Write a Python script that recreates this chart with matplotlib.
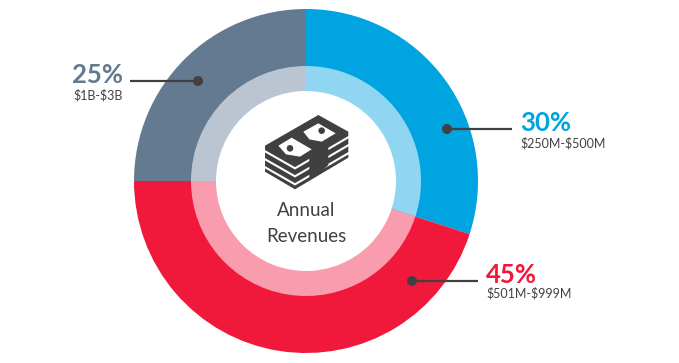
import matplotlib
matplotlib.use("Agg")
import matplotlib.pyplot as plt
from matplotlib.patches import Polygon, Circle

shares = [30, 45, 25]
percent_labels = ["30%", "45%", "25%"]
range_labels = [r"\$250M-\$500M", r"\$501M-\$999M", r"\$1B-\$3B"]
outer_colors = ["#00A4E0", "#F0193C", "#647A91"]
inner_colors = ["#90D6F2", "#F89CAE", "#BAC5D1"]
center_title = ["Annual", "Revenues"]

W, H = 679, 363
DARK = "#414042"
FONT = "Lato"

fig = plt.figure(figsize=(W / 100, H / 100), dpi=100)
ax = fig.add_axes([0, 0, 1, 1])
cx, cy = 306, H - 181

ax.pie(shares, colors=outer_colors, radius=172, center=(cx, cy), startangle=90,
       counterclock=False, frame=False, wedgeprops=dict(linewidth=0))
ax.pie(shares, colors=inner_colors, radius=115, center=(cx, cy), startangle=90,
       counterclock=False, frame=False, wedgeprops=dict(linewidth=0))
ax.add_patch(Circle((cx, cy), 90, fc="white", ec="none", zorder=5))
ax.set_xlim(0, W)
ax.set_ylim(0, H)
ax.set_aspect("equal")
ax.axis("off")


def Z(pts):
    return [(250 + x / 3, H - (100 + y / 3)) for x, y in pts]


# money-stack icon (zoom coordinates)
ax.add_patch(Polygon(Z([(45, 137), (205, 45), (295, 95), (295, 173), (135, 268), (45, 215)]),
                     closed=True, fc="#404041", ec="none", zorder=6))
for dy in (15, 39, 63):
    xs, ys = zip(*Z([(42, 137 + dy), (135, 190 + dy), (298, 95 + dy)]))
    ax.plot(xs, ys, color="white", lw=1.5, zorder=6.5, solid_joinstyle="miter")
ax.add_patch(Polygon(Z([(178, 140), (235, 107), (235, 195), (205, 222), (178, 235)]),
                     closed=True, fc="#404041", ec="none", zorder=7))
ax.add_patch(Polygon(Z([(85, 137), (125, 113), (185, 148), (150, 170), (108, 163)]),
                     closed=True, fc="white", ec="none", zorder=8))
ax.add_patch(Polygon(Z([(160, 95), (205, 70), (257, 100), (215, 125), (178, 118)]),
                     closed=True, fc="white", ec="none", zorder=8))
ax.add_patch(Circle(Z([(120, 145)])[0], 3.3, fc="#404041", ec="none", zorder=9))
ax.add_patch(Circle(Z([(215, 92)])[0], 3.3, fc="#404041", ec="none", zorder=9))

ax.text(306, H - 210, center_title[0], ha="center", va="center", fontsize=13.5,
        family=FONT, color=DARK, zorder=10)
ax.text(306, H - 236, center_title[1], ha="center", va="center", fontsize=13.5,
        family=FONT, color=DARK, zorder=10)

# leaders: dot (x, y), free end x; text anchor
ax.plot([447, 512], [H - 129, H - 129], color=DARK, lw=1.6, zorder=6, solid_capstyle="butt")
ax.add_patch(Circle((447, H - 129), 5, fc=DARK, ec="none", zorder=7))
ax.plot([412, 478], [H - 281, H - 281], color=DARK, lw=1.6, zorder=6, solid_capstyle="butt")
ax.add_patch(Circle((412, H - 281), 5, fc=DARK, ec="none", zorder=7))
ax.plot([130, 198], [H - 81, H - 81], color=DARK, lw=1.6, zorder=6, solid_capstyle="butt")
ax.add_patch(Circle((198, H - 81), 5, fc=DARK, ec="none", zorder=7))

ax.text(520, H - 123, percent_labels[0], ha="left", va="center", fontsize=18.5, family=FONT,
        color=outer_colors[0], weight="bold", zorder=10)
ax.text(520, H - 143, range_labels[0], ha="left", va="center", fontsize=9, family=FONT,
        color=DARK, zorder=10)
ax.text(486, H - 275, percent_labels[1], ha="left", va="center", fontsize=18.5, family=FONT,
        color=outer_colors[1], weight="bold", zorder=10)
ax.text(486, H - 293, range_labels[1], ha="left", va="center", fontsize=9, family=FONT,
        color=DARK, zorder=10)
ax.text(123, H - 75, percent_labels[2], ha="right", va="center", fontsize=18.5, family=FONT,
        color=outer_colors[2], weight="bold", zorder=10)
ax.text(123, H - 95, range_labels[2], ha="right", va="center", fontsize=9, family=FONT,
        color=DARK, zorder=10)

fig.savefig("out.png", dpi=100, facecolor="white")
